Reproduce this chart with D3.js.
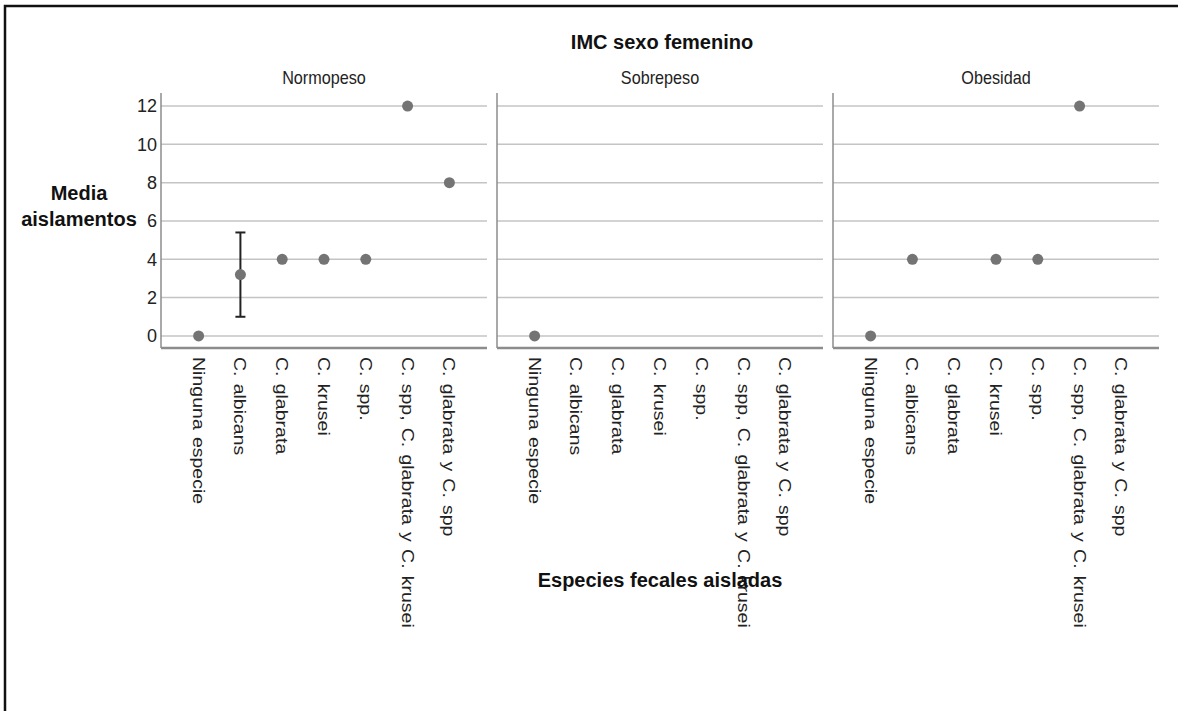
<!DOCTYPE html>
<html>
<head>
<meta charset="utf-8">
<script src="https://cdn.jsdelivr.net/npm/d3@7"></script>
<style>
  body { margin: 0; background: #fff; }
  text { font-family: Arial, "Liberation Sans", sans-serif; fill: #222; }
</style>
</head>
<body>
<div id="chart"></div>
<script>
// data
const categories = ['Ninguna especie', 'C. albicans', 'C. glabrata', 'C. krusei', 'C. spp.', 'C. spp, C. glabrata y C. krusei', 'C. glabrata y C. spp'];
const panels = ['Normopeso', 'Sobrepeso', 'Obesidad'];
const normopeso = [0, 3.2, 4, 4, 4, 12, 8];
const sobrepeso = [0, null, null, null, null, null, null];
const obesidad = [0, 4, null, 4, 4, 12, null];
const errLow = [[null, 1.0, null, null, null, null, null], [], []];
const errHigh = [[null, 5.4, null, null, null, null, null], [], []];
const yTicks = [0, 2, 4, 6, 8, 10, 12];

const width = 1178, height = 711;
const panelLeft = [161, 497, 833], panelW = 326;
const plotTop = 93, plotBottom = 348;
const series = [normopeso, sobrepeso, obesidad];

const svg = d3.select('#chart').append('svg')
    .attr('width', width)
    .attr('height', height);

// outer frame (right/bottom edges run past the window)
svg.append('rect')
    .attr('x', 5).attr('y', 6)
    .attr('width', 1300).attr('height', 900)
    .attr('fill', 'none').attr('stroke', '#111').attr('stroke-width', 2.5);

const y = d3.scaleLinear().domain([-0.63, 12.68]).range([plotBottom, plotTop]);

svg.append('text')
    .attr('x', 662).attr('y', 42).attr('dy', '0.35em')
    .attr('text-anchor', 'middle')
    .style('font-weight', 'bold').style('font-size', '20px')
    .style('fill', '#111')
    .text('IMC sexo femenino');

panels.forEach((name, p) => {
    const x = d3.scalePoint().domain(categories).range([panelLeft[p], panelLeft[p] + panelW]).padding(0.9);
    const g = svg.append('g');

    // facet label, a bit condensed like the original
    g.append('text')
        .attr('transform', 'translate(' + (panelLeft[p] + panelW / 2) + ',78) scale(0.9,1)')
        .attr('dy', '0.35em')
        .attr('text-anchor', 'middle').style('font-size', '18px')
        .text(name);

    // gridlines
    g.selectAll('line.grid').data(yTicks).enter().append('line')
        .attr('class', 'grid')
        .attr('x1', panelLeft[p]).attr('x2', panelLeft[p] + panelW)
        .attr('y1', d => y(d)).attr('y2', d => y(d))
        .attr('stroke', '#c4c4c4').attr('stroke-width', 1.5);

    // axes
    g.append('line')
        .attr('x1', panelLeft[p]).attr('x2', panelLeft[p])
        .attr('y1', plotTop).attr('y2', plotBottom)
        .attr('stroke', '#8c8c8c').attr('stroke-width', 1.5);
    g.append('line')
        .attr('x1', panelLeft[p]).attr('x2', panelLeft[p] + panelW)
        .attr('y1', plotBottom).attr('y2', plotBottom)
        .attr('stroke', '#8c8c8c').attr('stroke-width', 2.5);

    // x labels, rotated and stretched along the reading direction
    g.selectAll('text.xl').data(categories).enter().append('text')
        .attr('class', 'xl')
        .attr('transform', d => 'translate(' + x(d) + ',357) rotate(90) scale(1.15,1)')
        .attr('dy', '0.35em')
        .style('font-size', '17px').style('word-spacing', '1.5px')
        .text(d => d);

    // error bars
    categories.forEach((c, i) => {
        const lo = errLow[p][i], hi = errHigh[p][i];
        if (lo == null || hi == null) return;
        const eg = g.append('g').attr('stroke', '#222').attr('stroke-width', 2);
        eg.append('line').attr('x1', x(c)).attr('x2', x(c)).attr('y1', y(lo)).attr('y2', y(hi));
        eg.append('line').attr('x1', x(c) - 5).attr('x2', x(c) + 5).attr('y1', y(lo)).attr('y2', y(lo));
        eg.append('line').attr('x1', x(c) - 5).attr('x2', x(c) + 5).attr('y1', y(hi)).attr('y2', y(hi));
    });

    // points
    g.selectAll('circle').data(series[p].map((v, i) => ({ c: categories[i], v })).filter(d => d.v != null))
        .enter().append('circle')
        .attr('cx', d => x(d.c)).attr('cy', d => y(d.v))
        .attr('r', 5.5).attr('fill', '#747474');
});

// y tick labels on the first panel
svg.selectAll('text.yl').data(yTicks).enter().append('text')
    .attr('class', 'yl')
    .attr('x', 157).attr('y', d => y(d)).attr('dy', '0.35em')
    .attr('text-anchor', 'end').style('font-size', '18px')
    .text(d => d);

// axis titles
const yTitle = svg.append('text')
    .attr('text-anchor', 'middle')
    .style('font-weight', 'bold').style('font-size', '20px').style('fill', '#111');
yTitle.append('tspan').attr('x', 79).attr('y', 200).text('Media');
yTitle.append('tspan').attr('x', 79).attr('y', 226).text('aislamentos');

svg.append('text')
    .attr('x', 660).attr('y', 580).attr('dy', '0.35em')
    .attr('text-anchor', 'middle')
    .style('font-weight', 'bold').style('font-size', '20px').style('fill', '#111')
    .text('Especies fecales aisladas');
</script>
</body>
</html>
